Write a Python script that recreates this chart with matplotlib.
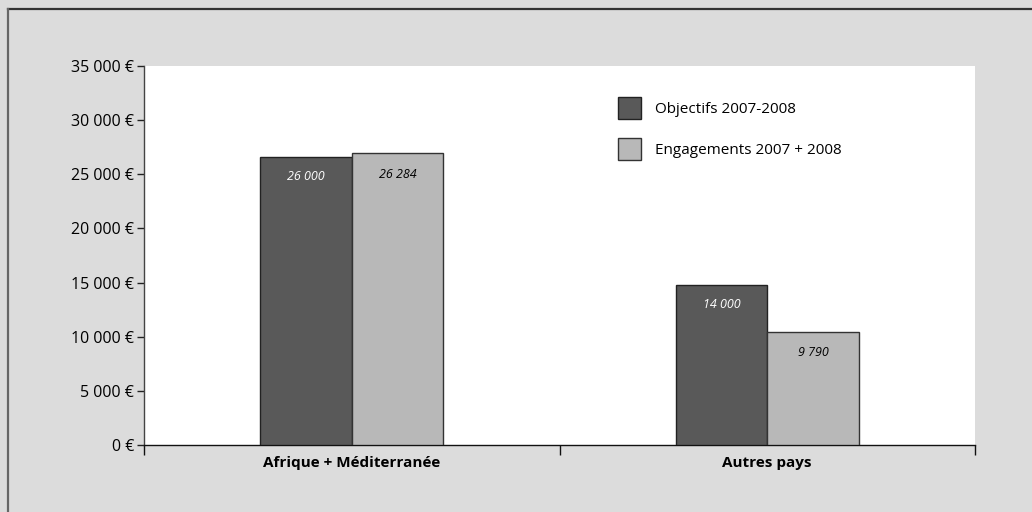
import matplotlib
matplotlib.use("Agg")
import matplotlib.pyplot as plt
from matplotlib.patches import Patch
from matplotlib.lines import Line2D
from matplotlib.ticker import FuncFormatter, FixedLocator

plt.rcParams['font.family'] = ['Open Sans', 'DejaVu Sans']

# data
categories = ["Afrique + Méditerranée", "Autres pays"]
series_names = ["Objectifs 2007-2008", "Engagements 2007 + 2008"]
objectifs = [26600, 14800]
engagements = [26950, 10450]
objectifs_labels = ["26 000", "14 000"]
engagements_labels = ["26 284", "9 790"]
yticks = [0, 5000, 10000, 15000, 20000, 25000, 30000, 35000]

dark = "#595959"
light = "#b8b8b8"
bg = "#dcdcdc"

fig = plt.figure(figsize=(10.32, 5.12), dpi=100, facecolor=bg)
ax = fig.add_axes([144 / 1032, 1 - 445 / 512, 831 / 1032, 379 / 512])

# outer frame (only top and left edges are visible)
fig.add_artist(Line2D([8 / 1032, 1], [1 - 9 / 512, 1 - 9 / 512], color="#333333", lw=1.6))
fig.add_artist(Line2D([8 / 1032, 8 / 1032], [0, 1 - 9 / 512], color="#666666", lw=1.6))

centers = [0.5 + i for i in range(len(categories))]
w = 0.22
b1 = ax.bar([c - w / 2 for c in centers], objectifs, w, color=dark, edgecolor="#222222", lw=1.0, zorder=3)
b2 = ax.bar([c + w / 2 for c in centers], engagements, w, color=light, edgecolor="#333333", lw=1.0, zorder=3)

for bar, lab in zip(b1, objectifs_labels):
    ax.annotate(lab, (bar.get_x() + bar.get_width() / 2, bar.get_height()),
                xytext=(0, -20), textcoords="offset pixels", ha="center", va="center",
                color="white", fontsize=9, style="italic", zorder=4)
for bar, lab in zip(b2, engagements_labels):
    ax.annotate(lab, (bar.get_x() + bar.get_width() / 2, bar.get_height()),
                xytext=(0, -21), textcoords="offset pixels", ha="center", va="center",
                color="black", fontsize=9, style="italic", zorder=4)

ax.set_xlim(0, 2)
ax.set_ylim(0, 35000)
ax.set_yticks(yticks)
ax.yaxis.set_major_formatter(FuncFormatter(lambda v, p: f"{int(v):,}".replace(",", " ") + " €"))
ax.tick_params(axis="y", direction="out", length=5, width=1, pad=2, labelsize=11.5, color="#222222")

ax.xaxis.set_major_locator(FixedLocator([0, 1, 2]))
ax.xaxis.set_major_formatter(FuncFormatter(lambda v, p: ""))
ax.xaxis.set_minor_locator(FixedLocator(centers))
ax.set_xticklabels(categories, minor=True, fontweight="bold", fontsize=11)
ax.tick_params(axis="x", which="major", direction="out", length=7, width=1, color="#111111")
ax.tick_params(axis="x", which="minor", length=0, pad=8)

for s in ["top", "right"]:
    ax.spines[s].set_visible(False)
ax.spines["left"].set_color("#444444")
ax.spines["bottom"].set_color("#111111")
ax.spines["left"].set_linewidth(1.0)
ax.spines["bottom"].set_linewidth(1.0)

handles = [Patch(facecolor=dark, edgecolor="#222222", lw=1.0),
           Patch(facecolor=light, edgecolor="#333333", lw=1.0)]
ax.legend(handles, series_names, loc="upper left", bbox_to_anchor=(0.570, 0.918),
          frameon=False, fontsize=11, handlelength=1.55, handleheight=1.82,
          handletextpad=0.9, labelspacing=1.24, borderpad=0, borderaxespad=0)

fig.savefig("out.png", dpi=100, facecolor=bg)
